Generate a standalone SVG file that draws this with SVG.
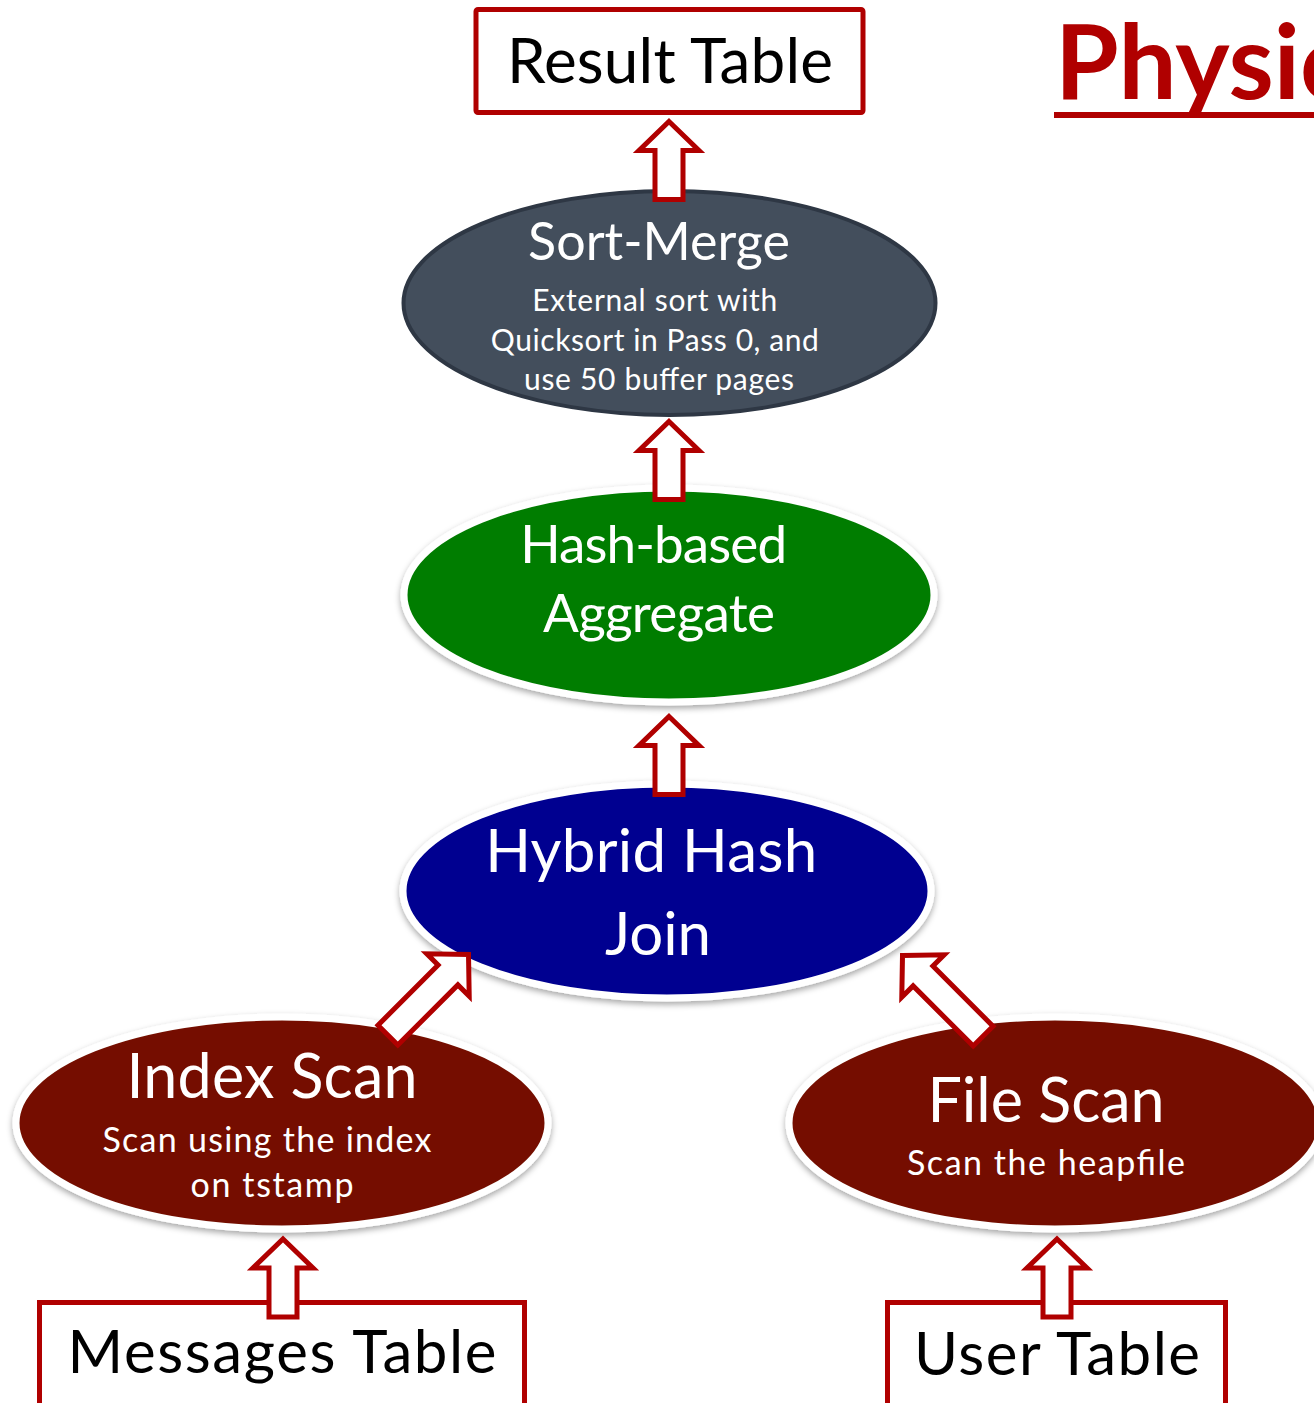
<svg xmlns="http://www.w3.org/2000/svg" width="1314" height="1403" viewBox="0 0 1314 1403">
  <defs>
    <filter id="soft" x="-10%" y="-15%" width="120%" height="135%">
      <feDropShadow dx="0" dy="3" stdDeviation="3" flood-color="#000" flood-opacity="0.35"/>
    </filter>
    <!-- block arrow pointing up, tip at origin -->
    <polygon id="up" points="0,0 30,29 14,29 14,78 -14,78 -14,29 -30,29"/>
    <polygon id="upLong" points="0,0 30,29 14,29 14,114 -14,114 -14,29 -30,29"/>
  </defs>
  <style>
    text { font-family: Lato, "Liberation Sans", sans-serif; text-anchor: middle; }
    .tbl { fill: #fff; stroke: #b00000; stroke-width: 5; }
    .tblText { fill: #000; }
    .op { stroke: #fff; stroke-width: 7; filter: url(#soft); }
    .head { fill: #fff; }
    .sub { fill: #fff; }
    .arrow { fill: #fff; stroke: #b00000; stroke-width: 5; stroke-linejoin: miter; }
  </style>

  <rect width="1314" height="1403" fill="#fff"/>

  <!-- title -->
  <g id="title">
    <text x="1055" y="99" style="text-anchor:start" font-size="103" font-weight="bold" fill="#b00000">Physic</text>
    <rect x="1054" y="112" width="270" height="6" fill="#b00000"/>
  </g>

  <g id="result-table">
    <rect class="tbl" x="476" y="9.5" width="387" height="103" rx="2"/>
    <text class="tblText" x="670" y="83" font-size="62" textLength="326">Result Table</text>
  </g>

  <g id="sort-merge">
    <ellipse cx="669.5" cy="303" rx="266" ry="112" fill="#434e5c" stroke="#2e3744" stroke-width="4"/>
    <text class="head" x="659" y="260" font-size="52">Sort-Merge</text>
    <text class="sub" font-size="30">
      <tspan x="659" y="311" textLength="245">External sort with</tspan>
      <tspan x="659" y="351" textLength="328">Quicksort in Pass 0, and</tspan>
      <tspan x="659" y="390" textLength="270">use 50 buffer pages</tspan>
    </text>
  </g>

  <g id="hash-aggregate">
    <ellipse class="op" cx="669" cy="595" rx="265" ry="107" fill="#037d03"/>
    <text class="head" font-size="53">
      <tspan x="660" y="563" textLength="267">Hash-based</tspan>
      <tspan x="659" y="632" textLength="232">Aggregate</tspan>
    </text>
  </g>

  <g id="hybrid-hash-join">
    <ellipse class="op" cx="667" cy="891" rx="264" ry="107" fill="#000090"/>
    <text class="head" font-size="60">
      <tspan x="659" y="872" textLength="332">Hybrid Hash</tspan>
      <tspan x="658" y="955">Join</tspan>
    </text>
  </g>

  <g id="index-scan">
    <ellipse class="op" cx="282" cy="1123" rx="266" ry="106" fill="#741100"/>
    <text class="head" x="272" y="1098" font-size="61" textLength="291">Index Scan</text>
    <text class="sub" font-size="34">
      <tspan x="272" y="1152" textLength="329">Scan using the index</tspan>
      <tspan x="272" y="1197" textLength="163">on tstamp</tspan>
    </text>
  </g>

  <g id="file-scan">
    <ellipse class="op" cx="1055" cy="1123" rx="266" ry="106" fill="#741100"/>
    <text class="head" x="1046" y="1122" font-size="61" textLength="237">File Scan</text>
    <text class="sub" x="1046" y="1175" font-size="34" textLength="278">Scan the heapfile</text>
  </g>

  <g id="messages-table">
    <rect class="tbl" x="39.5" y="1302.5" width="485" height="130"/>
    <text class="tblText" x="282" y="1373" font-size="60" textLength="429">Messages Table</text>
  </g>

  <g id="user-table">
    <rect class="tbl" x="887.5" y="1302.5" width="338" height="130"/>
    <text class="tblText" x="1057" y="1375" font-size="60" textLength="286">User Table</text>
  </g>

  <!-- data-flow arrows -->
  <g id="connectors" class="arrow">
    <use href="#up" x="669" y="121.5"/>
    <use href="#up" x="669" y="421.5"/>
    <use href="#up" x="669" y="716.5"/>
    <use href="#up" x="283" y="1239"/>
    <use href="#up" x="1057" y="1239"/>
    <use href="#upLong" transform="translate(468.5 954.5) rotate(45)"/>
    <use href="#upLong" transform="translate(902.5 955.5) rotate(-45)"/>
  </g>
</svg>
